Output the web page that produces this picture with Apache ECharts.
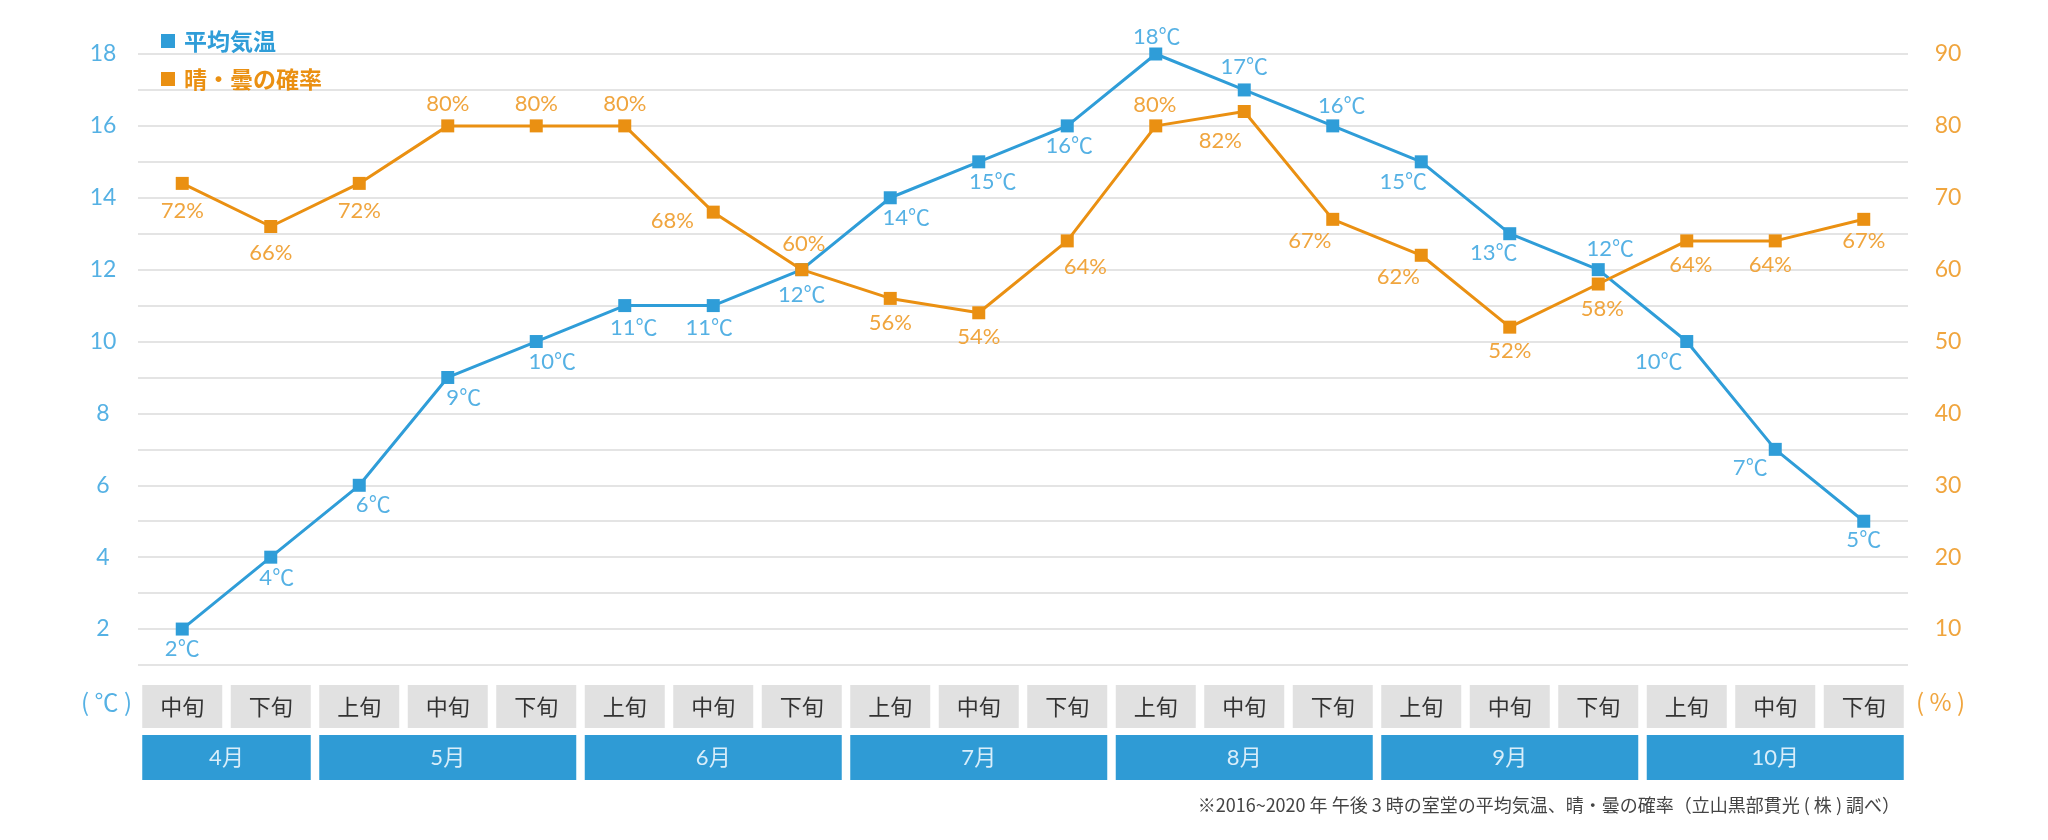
<!DOCTYPE html>
<html><head><meta charset="utf-8">
<script src="https://cdn.jsdelivr.net/npm/echarts@6/dist/echarts.min.js"></script>
<style>html,body{margin:0;padding:0;background:#fff}#c{width:2048px;height:840px}</style>
</head><body><div id="c"></div>
<script>
// ---- data ----
const months = ['4月', '5月', '6月', '7月', '8月', '9月', '10月'];
const monthDekads = [
  ['中旬', '下旬'],
  ['上旬', '中旬', '下旬'],
  ['上旬', '中旬', '下旬'],
  ['上旬', '中旬', '下旬'],
  ['上旬', '中旬', '下旬'],
  ['上旬', '中旬', '下旬'],
  ['上旬', '中旬', '下旬']
];
const temperature = [2, 4, 6, 9, 10, 11, 11, 12, 14, 15, 16, 18, 17, 16, 15, 13, 12, 10, 7, 5];
const clearRate = [72, 66, 72, 80, 80, 80, 68, 60, 56, 54, 64, 80, 82, 67, 62, 52, 58, 64, 64, 67];
const tempTicks = [2, 4, 6, 8, 10, 12, 14, 16, 18];
const rateTicks = [10, 20, 30, 40, 50, 60, 70, 80, 90];
const seriesNames = ['平均気温', '晴・曇の確率'];
const footnote = '※2016~2020 年 午後 3 時の室堂の平均気温、晴・曇の確率（立山黒部貫光 ( 株 ) 調べ）';

// ---- label placement (style) ----
const tempLabelOffset = [[0,20],[6,21],[14,20],[16,20],[16,20],[9,22],[-4,22],[0,25],[16,20],[14,20],
  [2,20],[1,-17],[0,-23],[9,-20],[-18,20],[-16,19],[12,-21],[-28,20],[-25,19],[0,19]];
const rateLabelOffset = [[0,28],[0,26],[0,28],[0,-22],[0,-22],[0,-22],[-41,9],[2,-26],[0,25],[0,24],
  [18,26],[-1,-21],[-24,29],[-23,22],[-23,22],[0,24],[4,25],[4,24],[-5,24],[0,22]];

// ---- derived ----
const categories = [];
const dekadLabels = [];
const monthRanges = [];
monthDekads.forEach((ds, m) => {
  const start = categories.length;
  ds.forEach(d => { categories.push(months[m] + d); dekadLabels.push(d); });
  monthRanges.push([start, categories.length - 1, 0]);
});

const BLUE = '#2f9dd8', BLUE_TXT = '#55b1e4';
const ORANGE = '#ea9012', ORANGE_TXT = '#f0a53e';
const NUMFONT = 'Lato, "Noto Sans CJK JP", sans-serif';
const JPFONT = '"Noto Sans CJK JP", sans-serif';

const chart = echarts.init(document.getElementById('c'));
chart.setOption({
  animation: false,
  backgroundColor: '#fff',
  title: {
    text: footnote, right: 143, top: 791,
    textStyle: { fontSize: 18, fontWeight: 'normal', color: '#444', fontFamily: JPFONT }
  },
  legend: {
    orient: 'vertical', left: 156, top: 24, itemWidth: 14, itemHeight: 14, itemGap: 14, icon: 'rect',
    textStyle: { fontSize: 23, fontWeight: 'bold', fontFamily: JPFONT, lineHeight: 24, padding: [0, 0, 0, 4] },
    data: [
      { name: seriesNames[0], textStyle: { color: BLUE } },
      { name: seriesNames[1], textStyle: { color: ORANGE } }
    ]
  },
  graphic: [
    { type: 'text', x: 132, y: 702, style: { text: '( ℃ )', align: 'right', verticalAlign: 'middle', font: '24px ' + JPFONT, fill: BLUE_TXT } },
    { type: 'text', x: 1916, y: 702, style: { text: '( % )', align: 'left', verticalAlign: 'middle', font: '24px ' + JPFONT, fill: ORANGE_TXT } }
  ],
  grid: [
    { left: 138, right: 140, top: 54, bottom: 175 },
    { left: 138, right: 140, top: 685, height: 95 }
  ],
  xAxis: [
    { type: 'category', gridIndex: 0, data: categories, boundaryGap: true,
      axisLine: { show: false }, axisTick: { show: false }, axisLabel: { show: false }, splitLine: { show: false } },
    { type: 'category', gridIndex: 1, data: categories, boundaryGap: true, show: false }
  ],
  yAxis: [
    { type: 'value', gridIndex: 0, min: 1, max: 18, interval: 1, position: 'left',
      axisLine: { show: false }, axisTick: { show: false },
      axisLabel: { margin: 35, align: 'center', color: BLUE_TXT, fontSize: 23, fontFamily: NUMFONT,
        formatter: v => tempTicks.includes(v) ? String(v) : '' },
      splitLine: { show: true, lineStyle: { color: '#e4e4e4', width: 2 } } },
    { type: 'value', gridIndex: 0, min: 5, max: 90, interval: 5, position: 'right',
      axisLine: { show: false }, axisTick: { show: false },
      axisLabel: { margin: 40, align: 'center', color: ORANGE_TXT, fontSize: 23, fontFamily: NUMFONT,
        formatter: v => rateTicks.includes(v) ? String(v) : '' },
      splitLine: { show: false } },
    { type: 'value', gridIndex: 1, min: 0, max: 95, show: false }
  ],
  series: [
    {
      name: seriesNames[0], type: 'line', xAxisIndex: 0, yAxisIndex: 0,
      symbol: 'rect', symbolSize: 13, z: 3,
      lineStyle: { color: BLUE, width: 3 }, itemStyle: { color: BLUE },
      label: { show: true, position: 'inside', formatter: '{c}℃', color: BLUE_TXT, fontSize: 22, fontFamily: NUMFONT },
      data: temperature.map((v, i) => ({ value: v, label: { offset: tempLabelOffset[i] } }))
    },
    {
      name: seriesNames[1], type: 'line', xAxisIndex: 0, yAxisIndex: 1,
      symbol: 'rect', symbolSize: 13, z: 4,
      lineStyle: { color: ORANGE, width: 3 }, itemStyle: { color: ORANGE },
      label: { show: true, position: 'inside', formatter: '{c}%', color: ORANGE_TXT, fontSize: 22, fontFamily: NUMFONT },
      data: clearRate.map((v, i) => ({ value: v, label: { offset: rateLabelOffset[i] } }))
    },
    {
      type: 'custom', xAxisIndex: 1, yAxisIndex: 2, silent: true,
      encode: { x: 0, y: 1 },
      data: categories.map((c, i) => [i, 0]),
      renderItem: (params, api) => {
        const i = api.value(0);
        const band = api.size([1, 0])[0];
        const w = band - 8.5;
        const top = api.coord([i, 95]);
        const bot = api.coord([i, 52]);
        return { type: 'group', children: [
          { type: 'rect', shape: { x: top[0] - w / 2, y: top[1], width: w, height: bot[1] - top[1] }, style: { fill: '#e1e1e1' } },
          { type: 'text', style: { text: dekadLabels[params.dataIndex], x: top[0], y: (top[1] + bot[1]) / 2,
            align: 'center', verticalAlign: 'middle', fill: '#333', font: '22px ' + JPFONT } }
        ] };
      }
    },
    {
      type: 'custom', xAxisIndex: 1, yAxisIndex: 2, silent: true,
      encode: { x: [0, 1], y: 2 },
      data: monthRanges,
      renderItem: (params, api) => {
        const band = api.size([1, 0])[0];
        const gap = 8.5;
        const a = api.coord([api.value(0), 45]);
        const b = api.coord([api.value(1), 0]);
        const x0 = a[0] - band / 2 + gap / 2;
        const x1 = b[0] + band / 2 - gap / 2;
        return { type: 'group', children: [
          { type: 'rect', shape: { x: x0, y: a[1], width: x1 - x0, height: b[1] - a[1] }, style: { fill: '#2f9bd5' } },
          { type: 'text', style: { text: months[params.dataIndex], x: (x0 + x1) / 2, y: (a[1] + b[1]) / 2,
            align: 'center', verticalAlign: 'middle', fill: '#d9eefa', font: '22px ' + NUMFONT } }
        ] };
      }
    }
  ]
});
</script></body></html>
